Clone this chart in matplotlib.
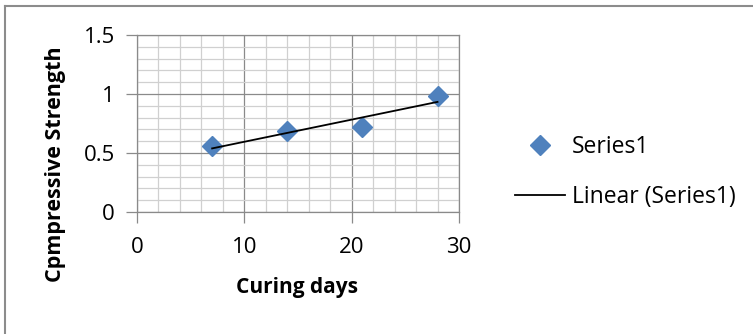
import matplotlib
matplotlib.use("Agg")
import matplotlib.pyplot as plt
from matplotlib.lines import Line2D
from matplotlib.ticker import MultipleLocator
import numpy as np

plt.rcParams['font.family'] = ['Open Sans', 'DejaVu Sans']

# curing days vs compressive strength
days = [7, 14, 21, 28]
strength = [0.557, 0.684, 0.72, 0.983]
x_ticks = [0, 10, 20, 30]
y_ticks = [0, 0.5, 1, 1.5]
y_tick_labels = ["0", "0.5", "1", "1.5"]

W, H = 753, 334
fig = plt.figure(figsize=(W/100, H/100), dpi=100)
ax = fig.add_axes([137/W, 1 - 212/H, 322/W, 177/H])

# outer chart border (only left and top fall inside the image)
border = dict(transform=fig.transFigure, color='#8c8c8c', linewidth=1.5, clip_on=False)
fig.add_artist(Line2D([4.5/W, 4.5/W], [0.0, 1 - 5.5/H], **border))
fig.add_artist(Line2D([4.5/W, 1.0], [1 - 5.5/H, 1 - 5.5/H], **border))

ax.xaxis.set_minor_locator(MultipleLocator(2))
ax.yaxis.set_minor_locator(MultipleLocator(0.1))
ax.grid(which='minor', color='#d0d0d0', linewidth=0.9)
ax.grid(which='major', color='#8a8a8a', linewidth=0.9)
ax.set_axisbelow(True)

ax.plot(days, strength, linestyle='none', marker='D', markersize=10.5,
        color='#4f81bd', zorder=3)

# linear trendline
k, b = np.polyfit(days, strength, 1)
xs = np.array([days[0], days[-1]])
ax.plot(xs, k*xs + b, color='black', linewidth=1.3, zorder=4)

ax.set_xlim(0, 30)
ax.set_ylim(0, 1.5)
ax.set_xticks(x_ticks)
ax.set_yticks(y_ticks)
ax.set_yticklabels(y_tick_labels)
ax.tick_params(which='major', direction='out', length=8, width=0.9, color='#8a8a8a',
               labelsize=16)
ax.tick_params(axis='x', pad=10)
ax.tick_params(axis='y', pad=8)
ax.tick_params(which='minor', length=0)
for s in ax.spines.values():
    s.set_color('#8a8a8a')
    s.set_linewidth(0.9)

# axis titles placed where the chart puts them
fig.text(297/W, 1 - 287/H, "Curing days", fontsize=15, fontweight='bold',
         ha='center', va='center')
fig.text(56/W, 1 - 164/H, "Cpmpressive Strength", fontsize=15.5, fontweight='bold',
         ha='center', va='center', rotation=90)

handles = [Line2D([], [], linestyle='none', marker='D', markersize=10.5, color='#4f81bd'),
           Line2D([], [], color='black', linewidth=1.3)]
fig.legend(handles, ["Series1", "Linear (Series1)"], loc='center left',
           bbox_to_anchor=(494/W, 1 - 172/H), frameon=False, fontsize=16.5,
           handlelength=2.2, handletextpad=0.3, labelspacing=1.15)

fig.savefig("out.png", dpi=100)
